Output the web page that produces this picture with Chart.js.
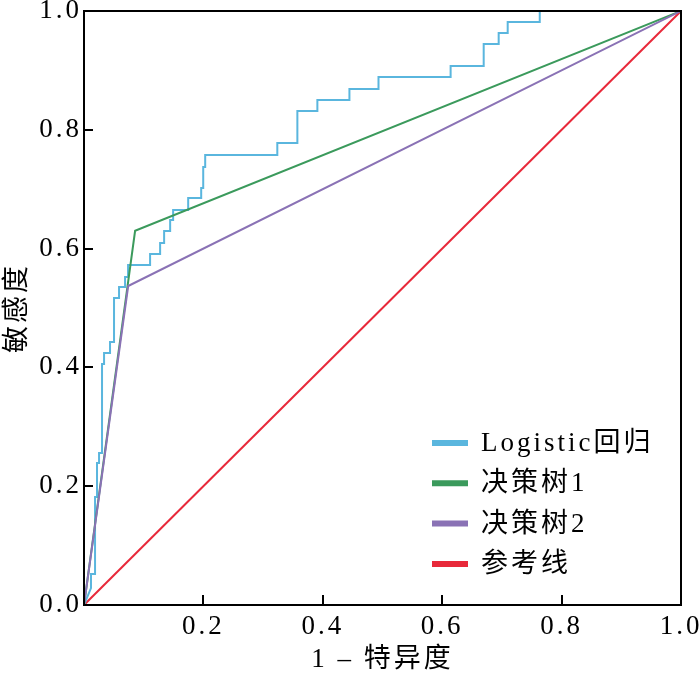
<!DOCTYPE html>
<html>
<head>
<meta charset="utf-8">
<script src="https://cdn.jsdelivr.net/npm/chart.js@4.4.0/dist/chart.umd.min.js"></script>
<style>
  html, body { margin: 0; padding: 0; background: #fff; }
  #wrap { width: 700px; height: 673px; }
</style>
</head>
<body>
<div id="wrap"><canvas id="roc"></canvas></div>
<script>
// ROC curves, values
const logisticFpr = [0, 0.0117, 0.0117, 0.0185, 0.0185, 0.0218, 0.0218, 0.0252, 0.0252, 0.0302, 0.0302, 0.0336, 0.0336,
  0.0436, 0.0436, 0.0503, 0.0503, 0.0587, 0.0587, 0.0688, 0.0688, 0.0738, 0.0738, 0.1107, 0.1107, 0.1275, 0.1275,
  0.1342, 0.1342, 0.1443, 0.1443, 0.1493, 0.1493, 0.1745, 0.1745, 0.1963, 0.1963, 0.1997, 0.1997, 0.2030, 0.2030,
  0.3238, 0.3238, 0.3574, 0.3574, 0.3909, 0.3909, 0.4446, 0.4446, 0.4933, 0.4933, 0.6141, 0.6141, 0.6695, 0.6695,
  0.6946, 0.6946, 0.7097, 0.7097, 0.7634, 0.7634, 1];
const logisticTpr = [0, 0.0286, 0.0522, 0.0522, 0.1818, 0.1818, 0.2391, 0.2391, 0.2559, 0.2559, 0.4057, 0.4057, 0.4242,
  0.4242, 0.4428, 0.4428, 0.5168, 0.5168, 0.5354, 0.5354, 0.5522, 0.5522, 0.5724, 0.5724, 0.5909, 0.5909, 0.6094,
  0.6094, 0.6296, 0.6296, 0.6481, 0.6481, 0.6650, 0.6650, 0.6852, 0.6852, 0.7020, 0.7020, 0.7374, 0.7374, 0.7576,
  0.7576, 0.7778, 0.7778, 0.8316, 0.8316, 0.8502, 0.8502, 0.8687, 0.8687, 0.8889, 0.8889, 0.9074, 0.9074, 0.9444,
  0.9444, 0.9630, 0.9630, 0.9815, 0.9815, 1, 1];
const tree1Fpr = [0, 0.0856, 1];
const tree1Tpr = [0, 0.630, 1];
const tree2Fpr = [0, 0.074, 1];
const tree2Tpr = [0, 0.537, 1];
const refFpr = [0, 1];
const refTpr = [0, 1];

const seriesNames = ['Logistic回归', '决策树1', '决策树2', '参考线'];
const seriesColors = ['#5ab6de', '#3b9a5c', '#8a72b5', '#e8293a'];
const xTicks = [0.2, 0.4, 0.6, 0.8, 1.0];
const yTicks = [0, 0.2, 0.4, 0.6, 0.8, 1.0];

const FONT = '"Liberation Serif", "Noto Sans CJK SC", serif';

function pts(xs, ys) {
  return xs.map((x, i) => ({ x: x, y: ys[i] }));
}

// inward ticks + full box
const frame = {
  id: 'frame',
  afterDatasetsDraw(chart) {
    const { ctx, chartArea: a } = chart;
    const xs = chart.scales.x, ys = chart.scales.y;
    ctx.save();
    ctx.strokeStyle = '#000';
    ctx.lineWidth = 2;
    ctx.beginPath();
    xTicks.forEach(v => {
      const px = Math.round(xs.getPixelForValue(v));
      ctx.moveTo(px, a.bottom);
      ctx.lineTo(px, a.bottom - 10);
    });
    yTicks.forEach(v => {
      const py = Math.round(ys.getPixelForValue(v));
      ctx.moveTo(a.left, py);
      ctx.lineTo(a.left + 9, py);
    });
    ctx.stroke();
    ctx.strokeRect(a.left, a.top, a.right - a.left, a.bottom - a.top);
    ctx.restore();
  }
};

const rocLegend = {
  id: 'rocLegend',
  afterDraw(chart) {
    const { ctx, chartArea: a } = chart;
    const x0 = a.left + 348, y0 = a.top + 432;
    ctx.save();
    ctx.font = '27px ' + FONT;
    ctx.textBaseline = 'middle';
    ctx.textAlign = 'left';
    chart.data.datasets.forEach((ds, i) => {
      const y = y0 + i * 40.3;
      ctx.strokeStyle = ds.borderColor;
      ctx.lineWidth = 6;
      ctx.lineCap = 'butt';
      ctx.beginPath();
      ctx.moveTo(x0, y);
      ctx.lineTo(x0 + 36, y);
      ctx.stroke();
      ctx.fillStyle = '#000';
      ctx.fillText(ds.label, x0 + 49, y + 1);
    });
    ctx.restore();
  }
};

// the original text is set rather wide
const spacing = {
  id: 'spacing',
  beforeDraw(chart) {
    chart.ctx.letterSpacing = '3px';
  }
};

const series = [
  { fpr: logisticFpr, tpr: logisticTpr, order: 3 },
  { fpr: tree1Fpr, tpr: tree1Tpr, order: 2 },
  { fpr: tree2Fpr, tpr: tree2Tpr, order: 1 },
  { fpr: refFpr, tpr: refTpr, order: 4 }
];

new Chart(document.getElementById('roc'), {
  type: 'scatter',
  data: {
    datasets: series.map((s, i) => ({
      label: seriesNames[i],
      data: pts(s.fpr, s.tpr),
      showLine: true,
      borderColor: seriesColors[i],
      backgroundColor: seriesColors[i],
      borderWidth: 2,
      pointRadius: 0,
      tension: 0,
      order: s.order
    }))
  },
  options: {
    responsive: true,
    maintainAspectRatio: false,
    animation: false,
    devicePixelRatio: 1,
    layout: { padding: { top: 11, right: 19, left: 0, bottom: 0 } },
    plugins: {
      legend: { display: false },
      tooltip: { enabled: false }
    },
    scales: {
      x: {
        type: 'linear',
        min: 0,
        max: 1,
        afterBuildTicks: s => { s.ticks = xTicks.map(v => ({ value: v })); },
        afterFit: s => { s.height = 68; s.paddingLeft = 0; s.paddingRight = 0; },
        grid: { display: false, drawTicks: false },
        border: { display: false },
        ticks: {
          color: '#000',
          padding: 6,
          maxRotation: 0,
          autoSkip: false,
          font: { family: FONT, size: 27 },
          callback: v => v.toFixed(1)
        },
        title: {
          display: true,
          text: '1 – 特异度',
          color: '#000',
          padding: { top: 0, bottom: 0 },
          font: { family: FONT, size: 27, lineHeight: 1 }
        }
      },
      y: {
        type: 'linear',
        min: 0,
        max: 1,
        afterBuildTicks: s => { s.ticks = yTicks.map(v => ({ value: v })); },
        afterFit: s => { s.width = 84; s.paddingTop = 0; s.paddingBottom = 0; },
        grid: { display: false, drawTicks: false },
        border: { display: false },
        ticks: {
          color: '#000',
          padding: 2,
          autoSkip: false,
          font: { family: FONT, size: 27 },
          callback: v => v.toFixed(1)
        },
        title: {
          display: true,
          text: '敏感度',
          color: '#000',
          padding: { top: 2, bottom: 0 },
          font: { family: FONT, size: 27, lineHeight: 1.2 }
        }
      }
    }
  },
  plugins: [spacing, frame, rocLegend]
});
</script>
</body>
</html>
